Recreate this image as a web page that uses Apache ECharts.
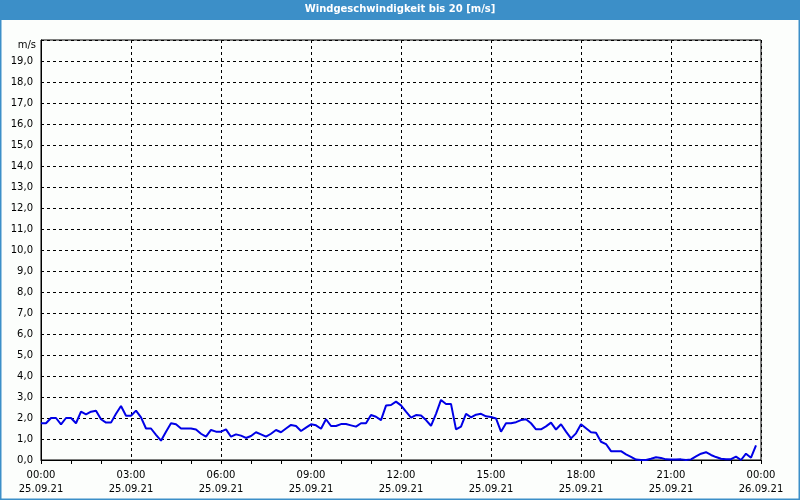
<!DOCTYPE html>
<html><head><meta charset="utf-8">
<script src="https://cdn.jsdelivr.net/npm/echarts@6/dist/echarts.min.js"></script>
<style>html,body{margin:0;padding:0;background:#fcfefc}#c{width:800px;height:500px}</style>
</head><body><div id="c"></div>
<script>
const chartTitle = 'Windgeschwindigkeit bis 20 [m/s]';
const unitLabel = 'm/s';
const sampleMinutes = 10;
const windSpeed = [
  1.75,1.75,2.0,2.0,1.7,2.0,2.0,1.75,2.3,2.17,
  2.3,2.35,1.94,1.78,1.78,2.2,2.57,2.11,2.11,2.35,
  2.03,1.5,1.5,1.2,0.92,1.35,1.75,1.7,1.5,1.5,
  1.5,1.45,1.25,1.11,1.43,1.35,1.35,1.46,1.11,1.22,
  1.16,1.05,1.14,1.32,1.22,1.11,1.25,1.43,1.32,1.5,
  1.67,1.62,1.38,1.54,1.7,1.65,1.49,1.94,1.62,1.62,
  1.71,1.71,1.65,1.59,1.75,1.75,2.14,2.06,1.9,2.59,
  2.62,2.78,2.6,2.3,2.02,2.14,2.12,1.9,1.63,2.2,
  2.86,2.67,2.67,1.46,1.59,2.2,2.03,2.16,2.2,2.08,
  2.05,1.98,1.35,1.75,1.75,1.8,1.9,1.94,1.75,1.46,
  1.46,1.6,1.78,1.45,1.7,1.35,1.03,1.27,1.7,1.51,
  1.32,1.3,0.87,0.76,0.42,0.42,0.42,0.27,0.15,0.02,
  0,0,0.06,0.13,0.1,0.03,0.02,0.02,0.03,0,
  0.03,0.17,0.3,0.37,0.24,0.14,0.06,0.04,0.04,0.16,
  0,0.3,0.11,0.7
];
const xTickLabels = ['00:00\n25.09.21','03:00\n25.09.21','06:00\n25.09.21','09:00\n25.09.21',
  '12:00\n25.09.21','15:00\n25.09.21','18:00\n25.09.21','21:00\n25.09.21','00:00\n26.09.21'];
const yTickLabels = ['0,0','1,0','2,0','3,0','4,0','5,0','6,0','7,0','8,0','9,0','10,0',
  '11,0','12,0','13,0','14,0','15,0','16,0','17,0','18,0','19,0',''];

const seriesData = windSpeed.map((v, i) => [i * sampleMinutes, v]);
const font = 'DejaVu Sans';
const chart = echarts.init(document.getElementById('c'), null, {renderer: 'canvas'});
chart.setOption({
  animation: false,
  backgroundColor: '#fcfefc',
  graphic: [
    {type: 'rect', z: -10, shape: {x: 0, y: 0, width: 800, height: 20}, style: {fill: '#3c8fc8'}},
    {type: 'rect', z: -10, shape: {x: 0.5, y: 0.5, width: 799, height: 499}, style: {fill: 'none', stroke: '#3c8fc8', lineWidth: 2}}
  ],
  title: {
    text: chartTitle, left: 'center', top: 4, padding: 0,
    textStyle: {color: '#ffffff', fontFamily: font, fontWeight: 'bold', fontSize: 10}
  },
  grid: {left: 41, right: 39, top: 40, bottom: 40, show: true, borderColor: '#000', borderWidth: 1, backgroundColor: 'transparent'},
  xAxis: {
    type: 'value', min: 0, max: 1440, interval: 180,
    axisLine: {show: true, lineStyle: {color: '#000', width: 1}},
    axisTick: {show: true, length: 4, lineStyle: {color: '#000'}},
    minorTick: {show: true, splitNumber: 3, length: 4, lineStyle: {color: '#000'}},
    axisLabel: {
      color: '#000', fontFamily: font, fontSize: 10, lineHeight: 14, margin: 8,
      formatter: v => xTickLabels[Math.round(v / 180)]
    },
    splitLine: {show: true, lineStyle: {color: '#000', type: [3, 3], width: 1}}
  },
  yAxis: {
    type: 'value', min: 0, max: 20, interval: 1,
    name: unitLabel, nameLocation: 'end', nameGap: 0,
    nameTextStyle: {color: '#000', fontFamily: font, fontSize: 10, align: 'right', verticalAlign: 'top', padding: [0, 5, 0, 0]},
    axisLine: {show: true, lineStyle: {color: '#000', width: 1}},
    axisTick: {show: false},
    axisLabel: {color: '#000', fontFamily: font, fontSize: 10, margin: 8, formatter: v => yTickLabels[Math.round(v)]},
    splitLine: {show: true, lineStyle: {color: '#000', type: [3, 3], width: 1}}
  },
  series: [{
    type: 'line', data: seriesData, showSymbol: false, smooth: false,
    lineStyle: {color: '#0000e6', width: 2}, itemStyle: {color: '#0000e6'}
  }]
});
</script></body></html>
